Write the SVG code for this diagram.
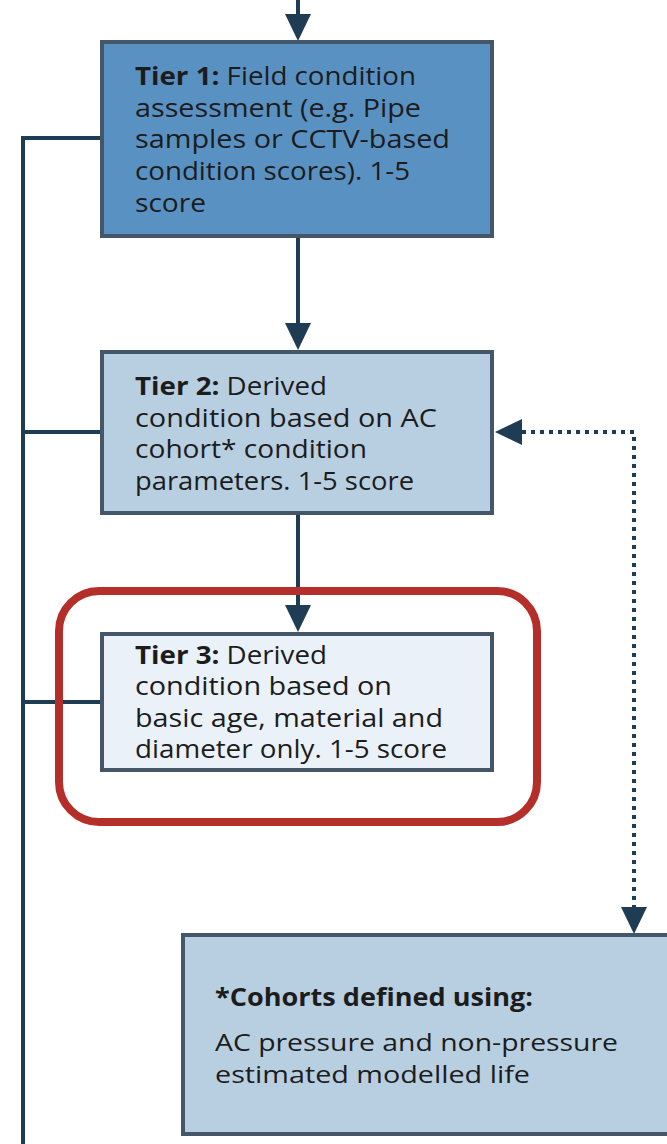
<svg xmlns="http://www.w3.org/2000/svg" width="667" height="1144" viewBox="0 0 667 1144">
  <style>
    .box { stroke: #445668; stroke-width: 4; }
    .t1 { fill: #5992c2; }
    .t2 { fill: #b8cfe1; }
    .t3 { fill: #eaf1f8; }
    .txt { font-family: "Open Sans", "Liberation Sans", sans-serif; font-size: 25px; fill: #1c1c1c; }
    .sm { font-size: 23.4px; }
    .b { font-weight: 700; }
    .conn { stroke: #1f3c55; stroke-width: 4; fill: none; }
    .dot { stroke: #1f3c55; stroke-width: 4; fill: none; stroke-dasharray: 4 5; }
    .hl { fill: none; stroke: #b42f2a; stroke-width: 8; }
  </style>
  <defs>
    <marker id="ah" markerUnits="userSpaceOnUse" markerWidth="28" markerHeight="26" viewBox="0 0 28 26" refX="0" refY="13" orient="auto-start-reverse">
      <path d="M0,0 L27,13 L0,26 Z" fill="#1f3c55"/>
    </marker>
  </defs>
  <rect width="667" height="1144" fill="#ffffff"/>

  <g id="connectors">
    <path class="conn" d="M298,0 V14" marker-end="url(#ah)"/>
    <path class="conn" d="M298,238 V323" marker-end="url(#ah)"/>
    <path class="conn" d="M298,515 V605" marker-end="url(#ah)"/>
    <path class="conn" d="M101,138 H23 V1144"/>
    <path class="conn" d="M23,432 H101"/>
    <path class="conn" d="M23,702 H101"/>
    <path class="dot" d="M522,432 H634 V907" marker-start="url(#ah)" marker-end="url(#ah)"/>
  </g>

  <g id="tier1">
    <rect class="box t1" x="102" y="42" width="390" height="194"/>
    <text class="txt" x="135" y="85" textLength="281" lengthAdjust="spacingAndGlyphs"><tspan class="b">Tier 1:</tspan> Field condition</text>
    <text class="txt" x="135" y="117" textLength="286" lengthAdjust="spacingAndGlyphs">assessment (e.g. Pipe</text>
    <text class="txt" x="135" y="148" textLength="315" lengthAdjust="spacingAndGlyphs">samples or CCTV-based</text>
    <text class="txt" x="135" y="180" textLength="275" lengthAdjust="spacingAndGlyphs">condition scores). 1-5</text>
    <text class="txt" x="135" y="212" textLength="71" lengthAdjust="spacingAndGlyphs">score</text>
  </g>

  <g id="tier2">
    <rect class="box t2" x="102" y="352" width="390" height="161"/>
    <text class="txt" x="135" y="395" textLength="192" lengthAdjust="spacingAndGlyphs"><tspan class="b">Tier 2:</tspan> Derived</text>
    <text class="txt" x="135" y="427" textLength="302" lengthAdjust="spacingAndGlyphs">condition based on AC</text>
    <text class="txt" x="135" y="458" textLength="232" lengthAdjust="spacingAndGlyphs">cohort* condition</text>
    <text class="txt" x="135" y="490" textLength="279" lengthAdjust="spacingAndGlyphs">parameters. 1-5 score</text>
  </g>

  <g id="tier3">
    <rect class="box t3" x="102" y="634" width="390" height="136"/>
    <text class="txt" x="135" y="664" textLength="192" lengthAdjust="spacingAndGlyphs"><tspan class="b">Tier 3:</tspan> Derived</text>
    <text class="txt" x="135" y="695" textLength="257" lengthAdjust="spacingAndGlyphs">condition based on</text>
    <text class="txt" x="135" y="727" textLength="308" lengthAdjust="spacingAndGlyphs">basic age, material and</text>
    <text class="txt" x="135" y="758" textLength="312" lengthAdjust="spacingAndGlyphs">diameter only. 1-5 score</text>
  </g>

  <g id="highlight">
    <rect class="hl" x="59" y="591" width="478" height="231" rx="40" ry="40"/>
  </g>

  <g id="cohorts">
    <rect class="box t2" x="183" y="935" width="500" height="199"/>
    <text class="txt b" x="215" y="1006" textLength="318" lengthAdjust="spacingAndGlyphs">*Cohorts defined using:</text>
    <text class="txt sm" x="215" y="1051" textLength="403" lengthAdjust="spacingAndGlyphs">AC pressure and non-pressure</text>
    <text class="txt sm" x="215" y="1083" textLength="315" lengthAdjust="spacingAndGlyphs">estimated modelled life</text>
  </g>
</svg>
